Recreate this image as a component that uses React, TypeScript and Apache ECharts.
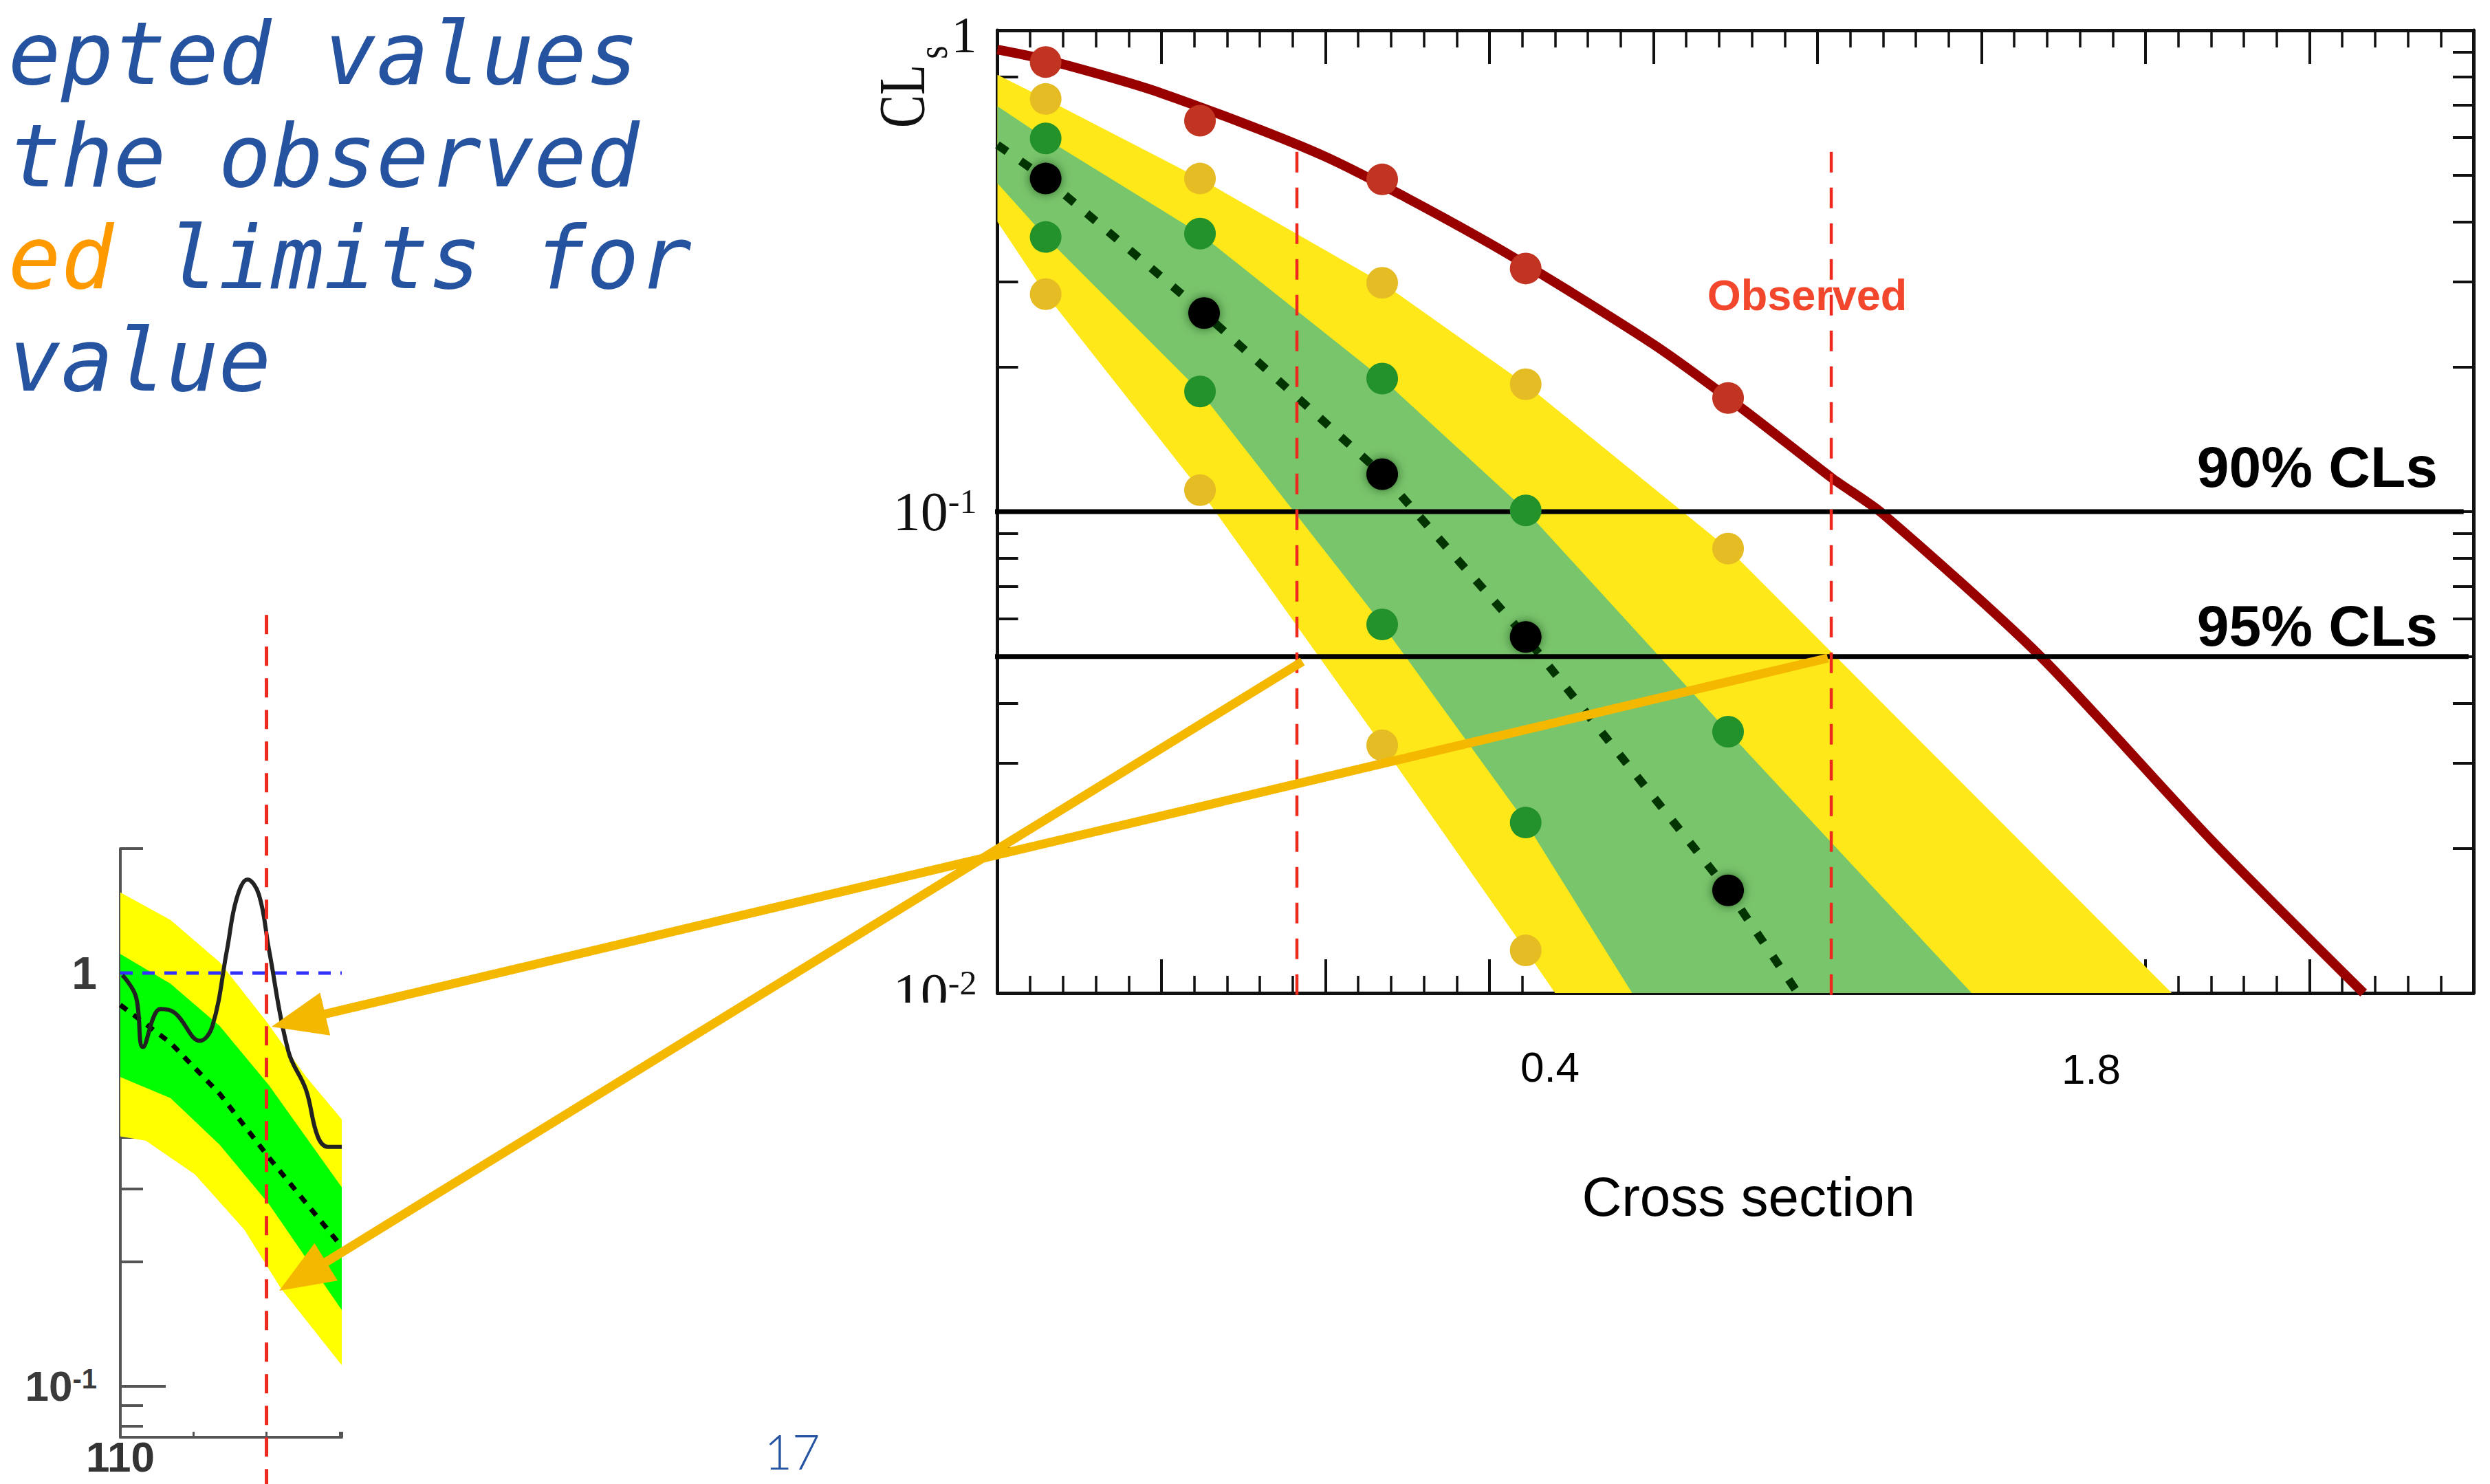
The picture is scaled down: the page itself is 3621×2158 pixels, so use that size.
import React, { useEffect, useRef } from 'react';
import * as echarts from 'echarts';

// ---------------- main chart data (x in axis units 0..9, y = CLs) ----------------
const colX = [0.294, 1.235, 2.346, 3.221, 4.455];
const medX = [0.294, 1.26, 2.346, 3.221, 4.455];
const obsDots = [0.859, 0.649, 0.49, 0.32, 0.1722];
const plus2Dots = [0.72, 0.492, 0.2988, 0.1839, 0.0838];
const plus1Dots = [0.596, 0.378, 0.189, 0.1006, 0.0349];
const medDots = [0.492, 0.2585, 0.1196, 0.0549, 0.01634];
const minus1Dots = [0.372, 0.1777, 0.0583, 0.0226];
const minus2Dots = [0.283, 0.1108, 0.0327, 0.01226];

const obsCurve = [
  [0, 0.912], [0.294, 0.869], [1, 0.74], [2, 0.546], [3, 0.361], [4, 0.2226],
  [4.55, 0.1628], [5.09, 0.1173], [5.39, 0.0995], [6.35, 0.0504], [7.4, 0.0208], [8.33, 0.01],
];
const medCurve = [
  [0, 0.578], [0.294, 0.492], [1.26, 0.2585], [2.346, 0.1196], [3.221, 0.0549], [4.455, 0.01634], [4.88, 0.01],
];
const yellowUpper = [[0, 0.808], [0.294, 0.72], [1.235, 0.492], [2.346, 0.2988], [3.221, 0.1839], [4.455, 0.0838], [7.16, 0.01]];
const yellowLower = [[0, 0.4], [0.294, 0.283], [1.235, 0.1108], [2.346, 0.0327], [3.221, 0.01226], [3.4, 0.01]];
const greenUpper = [[0, 0.695], [0.294, 0.596], [1.235, 0.378], [2.346, 0.189], [3.221, 0.1006], [4.455, 0.0349], [5.94, 0.01]];
const greenLower = [[0, 0.481], [0.294, 0.372], [1.235, 0.1777], [2.346, 0.0583], [3.221, 0.0226], [3.87, 0.01]];

const cl90 = 0.1;
const cl95 = 0.05;
const limitX = [1.826, 5.084];
const limitTop = 0.559;
const limitBottom = 0.0093;

const yMajor = [0.01, 0.1, 1];
const yMinor = [0.02, 0.03, 0.04, 0.05, 0.06, 0.07, 0.08, 0.09, 0.2, 0.3, 0.4, 0.5, 0.6, 0.7, 0.8, 0.9];

const xLabelTexts = ['0.4', '1.8'];

// ---------------- inset (cropped) chart data ----------------
const miniYellowUpper = [[110, 1.566], [113.43, 1.344], [116.8, 1.062], [120, 0.763], [122.7, 0.5615], [125.15, 0.4426]];
const miniYellowLower = [[110, 0.4026], [111.74, 0.393], [115.1, 0.3257], [118.48, 0.2395], [121, 0.1722], [125.15, 0.1125]];
const miniGreenUpper = [[110, 1.112], [113.43, 0.9425], [116.8, 0.744], [120.17, 0.535], [125.15, 0.303]];
const miniGreenLower = [[110, 0.5603], [113.43, 0.4984], [116.8, 0.384], [120.17, 0.276], [125.15, 0.1529]];
const miniMedian = [[110, 0.837], [113.43, 0.678], [116.8, 0.51], [120.17, 0.3575], [125.15, 0.2177]];
const miniObserved = [
  [110.14, 0.988], [111.06, 0.878], [111.55, 0.662], [112.75, 0.818], [113.76, 0.799], [115.45, 0.6855],
  [116.3, 0.744], [117.3, 1.139], [117.95, 1.511], [118.7, 1.683], [119.48, 1.548], [120.17, 1.139],
  [121.5, 0.646], [122.7, 0.522], [123.5, 0.4026], [124.2, 0.3797], [125.15, 0.3797],
];
const miniRef = 1;
const miniLimitX = 120;
const miniMajor = [0.1, 1];
const miniMinor = [0.08, 0.09, 0.2, 0.3, 0.4, 0.5, 0.6, 0.7, 0.8, 0.9, 2];

const noteLines = ['epted values', 'the observed', '{o|ed}{b| limits for}', 'value'];

// slide annotation arrows (pixel positions)
const arrows = [
  { from: [2658, 957], to: [395, 1493] },
  { from: [1894, 962], to: [406, 1877] },
];

const AX = '#111';
const ORANGE = '#F5B800';

function band(name: string, upper: number[][], lower: number[][], color: string, xi: number, yi: number, z: number) {
  const poly = upper.concat(lower.slice().reverse());
  return {
    type: 'custom',
    name,
    xAxisIndex: xi,
    yAxisIndex: yi,
    z,
    silent: true,
    clip: false,
    data: poly,
    renderItem: (params: any, api: any) => {
      if (params.dataIndex !== 0) return null;
      return {
        type: 'polygon',
        shape: { points: poly.map((p) => api.coord(p)) },
        style: { fill: color },
      };
    },
  };
}

function dots(vals: number[], xs: number[], color: string, extra: any = {}) {
  return {
    type: 'scatter',
    xAxisIndex: 0,
    yAxisIndex: 0,
    symbol: 'circle',
    symbolSize: 46,
    z: 7,
    silent: true,
    data: vals.map((v, i) => [xs[i], v]),
    itemStyle: { color, opacity: 1, ...extra },
  };
}

function isPow10(v: number) {
  const e = Math.round(Math.log10(v));
  return Math.abs(Math.log10(v) - e) < 1e-6;
}

function arrowGraphics() {
  const out: any[] = [];
  arrows.forEach((a) => {
    const dx = a.to[0] - a.from[0];
    const dy = a.to[1] - a.from[1];
    const len = Math.sqrt(dx * dx + dy * dy);
    const ux = dx / len, uy = dy / len;
    const hl = 80, hw = 32;
    const bx = a.to[0] - ux * hl, by = a.to[1] - uy * hl;
    out.push({
      type: 'line', z: 100, silent: true,
      shape: { x1: a.from[0], y1: a.from[1], x2: bx + ux * 4, y2: by + uy * 4 },
      style: { stroke: ORANGE, lineWidth: 13 },
    });
    out.push({
      type: 'polygon', z: 100, silent: true,
      shape: { points: [[a.to[0], a.to[1]], [bx - uy * hw, by + ux * hw], [bx + uy * hw, by - ux * hw]] },
      style: { fill: ORANGE },
    });
  });
  return out;
}

const mainYLabelRich = {
  one: { fontFamily: 'Liberation Serif', fontSize: 74, lineHeight: 56, padding: [14, 0, 0, 0], color: '#111' },
  b: { fontFamily: 'Liberation Serif', fontSize: 80, color: '#111' },
  s: { fontFamily: 'Liberation Serif', fontSize: 50, color: '#111', verticalAlign: 'top' },
};
const miniYLabelRich = {
  one: { fontFamily: 'Liberation Sans', fontWeight: 'bold', fontSize: 66, color: '#3a3a3a' },
  b: { fontFamily: 'Liberation Sans', fontWeight: 'bold', fontSize: 62, color: '#3a3a3a' },
  s: { fontFamily: 'Liberation Sans', fontWeight: 'bold', fontSize: 40, color: '#3a3a3a', verticalAlign: 'top' },
};

function yLabelFormatter(v: number) {
  if (!isPow10(v)) return '';
  const e = Math.round(Math.log10(v));
  return e === 0 ? '{one|1}' : `{b|10}{s|${e}}`;
}

function logAxis(grid: number, pos: string, min: number, max: number, opts: any) {
  return {
    gridIndex: grid,
    type: 'log',
    logBase: 10,
    min,
    max,
    position: pos,
    splitLine: { show: false },
    axisLabel: { show: false },
    ...opts,
  };
}

const option: any = {
  animation: false,
  backgroundColor: '#ffffff',
  grid: [
    { left: 1450.5, top: 38, width: 2146.5, height: 1406 },
    { left: 175, top: 1234, width: 322, height: 856 },
  ],
  xAxis: [
    {
      gridIndex: 0, type: 'value', position: 'bottom', min: 0, max: 9, interval: 1,
      axisLine: { show: true, onZero: false, lineStyle: { color: AX, width: 5 } },
      axisTick: { show: true, inside: true, length: 49, lineStyle: { color: AX, width: 4 } },
      minorTick: { show: true, splitNumber: 5, length: 25, lineStyle: { color: AX, width: 3.5 } },
      axisLabel: { show: false }, splitLine: { show: false }, minorSplitLine: { show: false },
      name: 'Cross section', nameLocation: 'middle', nameGap: 256,
      nameTextStyle: { fontFamily: 'Liberation Sans', fontSize: 80, color: '#000', padding: [0, 0, 0, 38] },
    },
    {
      gridIndex: 0, type: 'value', position: 'top', min: 0, max: 9, interval: 1,
      axisLine: { show: true, onZero: false, lineStyle: { color: AX, width: 5 } },
      axisTick: { show: true, inside: true, length: 49, lineStyle: { color: AX, width: 4 } },
      minorTick: { show: true, splitNumber: 5, length: 25, lineStyle: { color: AX, width: 3.5 } },
      axisLabel: { show: false }, splitLine: { show: false }, minorSplitLine: { show: false },
    },
    {
      gridIndex: 1, type: 'value', position: 'bottom', min: 110, max: 125.15, interval: 5,
      axisLine: { show: true, onZero: false, lineStyle: { color: '#555', width: 4 } },
      axisTick: { show: true, inside: true, length: 8, lineStyle: { color: '#555', width: 3 } },
      axisLabel: {
        show: true, margin: 6, fontFamily: 'Liberation Sans', fontWeight: 'bold', fontSize: 62, lineHeight: 44, color: '#333',
        formatter: (v: number) => (v === 110 ? '110' : ''),
      },
      splitLine: { show: false },
    },
  ],
  yAxis: [
    logAxis(0, 'left', 0.01, 1, {
      axisLine: { show: true, onZero: false, lineStyle: { color: AX, width: 5 } },
      axisTick: { show: true, inside: true, length: 50, customValues: yMajor, lineStyle: { color: AX, width: 4 } },
      axisLabel: { show: true, margin: 30, formatter: yLabelFormatter, rich: mainYLabelRich },
    }),
    logAxis(0, 'left', 0.01, 1, {
      axisLine: { show: false, onZero: false },
      axisTick: { show: true, inside: true, length: 30, customValues: yMinor, lineStyle: { color: AX, width: 4 } },
    }),
    logAxis(0, 'right', 0.01, 1, {
      axisLine: { show: true, onZero: false, lineStyle: { color: AX, width: 5 } },
      axisTick: { show: true, inside: true, length: 50, customValues: yMajor, lineStyle: { color: AX, width: 4 } },
    }),
    logAxis(0, 'right', 0.01, 1, {
      axisLine: { show: false, onZero: false },
      axisTick: { show: true, inside: true, length: 30, customValues: yMinor, lineStyle: { color: AX, width: 4 } },
    }),
    logAxis(1, 'left', 0.0753, 2, {
      axisLine: { show: true, onZero: false, lineStyle: { color: '#555', width: 4 } },
      axisTick: { show: true, inside: true, length: 66, customValues: miniMajor, lineStyle: { color: '#555', width: 4 } },
      axisLabel: { show: true, margin: 34, customValues: miniMajor, formatter: yLabelFormatter, rich: miniYLabelRich },
    }),
    logAxis(1, 'left', 0.0753, 2, {
      axisLine: { show: false, onZero: false },
      axisTick: { show: true, inside: true, length: 33, customValues: miniMinor, lineStyle: { color: '#555', width: 4 } },
    }),
  ],
  series: [
    band('yellow band', yellowUpper, yellowLower, '#FFE81A', 0, 0, 1),
    band('green band', greenUpper, greenLower, '#79C56B', 0, 0, 2),
    {
      type: 'line', name: 'expected', xAxisIndex: 0, yAxisIndex: 0, data: medCurve, symbol: 'none', z: 3, silent: true,
      lineStyle: { color: '#023402', width: 12, type: [17, 24] },
    },
    {
      type: 'line', name: 'observed', xAxisIndex: 0, yAxisIndex: 0, data: obsCurve, symbol: 'none', smooth: 0.25, z: 4, silent: true,
      lineStyle: { color: '#990000', width: 14 },
    },
    {
      type: 'line', name: '90%', xAxisIndex: 0, yAxisIndex: 0, data: [[-0.03, cl90], [8.94, cl90]], symbol: 'none', z: 5, clip: false, silent: true,
      lineStyle: { color: '#000', width: 7 },
    },
    {
      type: 'line', name: '95%', xAxisIndex: 0, yAxisIndex: 0, data: [[-0.04, cl95], [8.97, cl95]], symbol: 'none', z: 5, clip: false, silent: true,
      lineStyle: { color: '#000', width: 7 },
    },
    ...limitX.map((x) => ({
      type: 'line', xAxisIndex: 0, yAxisIndex: 0, data: [[x, limitTop], [x, limitBottom]], symbol: 'none', z: 6, clip: false, silent: true,
      lineStyle: { color: '#EE2A1E', width: 4.5, type: [30, 22] },
    })),
    dots(obsDots, colX, '#C13421'),
    dots(plus2Dots, colX, '#E6BC24'),
    dots(minus2Dots, colX, '#E6BC24'),
    dots(plus1Dots, colX, '#24922A'),
    dots(minus1Dots, colX, '#24922A'),
    dots(medDots, medX, '#000000', { shadowBlur: 14, shadowColor: 'rgba(0,40,0,0.6)' }),
    // inset chart
    band('mini yellow', miniYellowUpper, miniYellowLower, '#FFFF00', 2, 4, 1),
    band('mini green', miniGreenUpper, miniGreenLower, '#00FF00', 2, 4, 2),
    {
      type: 'line', xAxisIndex: 2, yAxisIndex: 4, data: miniMedian, symbol: 'none', z: 3, silent: true,
      lineStyle: { color: '#000', width: 7, type: [12, 12] },
    },
    {
      type: 'line', xAxisIndex: 2, yAxisIndex: 4, data: [[110, miniRef], [125.15, miniRef]], symbol: 'none', z: 4, silent: true,
      lineStyle: { color: '#3030FF', width: 5, type: [18, 14] },
    },
    {
      type: 'line', xAxisIndex: 2, yAxisIndex: 4, data: miniObserved, symbol: 'none', smooth: 0.4, z: 5, silent: true,
      lineStyle: { color: '#222', width: 6 },
    },
    {
      type: 'line', xAxisIndex: 2, yAxisIndex: 4, data: [[miniLimitX, 7.35], [miniLimitX, 0.0578]], symbol: 'none', z: 6, clip: false, silent: true,
      lineStyle: { color: '#EE2A1E', width: 5, type: [28, 18] },
    },
  ],
  graphic: [
    ...noteLines.map((t, i) => ({
      type: 'text', x: 12, y: 78 + i * 148.5, z: 100, silent: true,
      style: {
        text: t, fontFamily: 'DejaVu Sans Mono', fontStyle: 'italic', fontSize: 127, fill: '#2553A0',
        align: 'left', verticalAlign: 'middle',
        rich: {
          o: { fontFamily: 'DejaVu Sans Mono', fontStyle: 'italic', fontSize: 127, fill: '#FF9900', color: '#FF9900' },
          b: { fontFamily: 'DejaVu Sans Mono', fontStyle: 'italic', fontSize: 127, fill: '#2553A0', color: '#2553A0' },
        },
      },
    })),
    {
      type: 'text', x: 1152, y: 2110, z: 100, silent: true,
      style: { text: '17', fontFamily: 'Lato', fontWeight: 300, fontSize: 70, fill: '#2453A2', align: 'center', verticalAlign: 'middle' },
    },
    {
      type: 'text', x: 1311, y: 140, rotation: Math.PI / 2, scaleX: 0.75, z: 100, silent: true,
      style: { text: 'CL', fontFamily: 'Liberation Serif', fontSize: 96, fill: '#111', align: 'center', verticalAlign: 'middle' },
    },
    {
      type: 'text', x: 1356, y: 76, rotation: Math.PI / 2, scaleX: 0.8, z: 100, silent: true,
      style: { text: 's', fontFamily: 'Liberation Serif', fontSize: 62, fill: '#111', align: 'center', verticalAlign: 'middle' },
    },
    {
      type: 'text', x: 3545, y: 679, z: 100, silent: true,
      style: { text: '90% CLs', fontFamily: 'Liberation Sans', fontWeight: 'bold', fontSize: 84, fill: '#000', align: 'right', verticalAlign: 'middle' },
    },
    {
      type: 'text', x: 3545, y: 910, z: 100, silent: true,
      style: { text: '95% CLs', fontFamily: 'Liberation Sans', fontWeight: 'bold', fontSize: 84, fill: '#000', align: 'right', verticalAlign: 'middle' },
    },
    {
      type: 'text', x: 2628, y: 429, z: 100, silent: true,
      style: { text: 'Observed', fontFamily: 'Liberation Sans', fontWeight: 'bold', fontSize: 63, fill: '#F2472D', align: 'center', verticalAlign: 'middle' },
    },
    {
      type: 'text', x: 2254, y: 1551, z: 100, silent: true,
      style: { text: xLabelTexts[0], fontFamily: 'Liberation Sans', fontSize: 62, fill: '#000', align: 'center', verticalAlign: 'middle' },
    },
    {
      type: 'text', x: 3041, y: 1554, z: 100, silent: true,
      style: { text: xLabelTexts[1], fontFamily: 'Liberation Sans', fontSize: 62, fill: '#000', align: 'center', verticalAlign: 'middle' },
    },
    {
      type: 'rect', z: 99, silent: true,
      shape: { x: 1280, y: 1458, width: 160, height: 80 },
      style: { fill: '#ffffff' },
    },
    ...arrowGraphics(),
  ],
};

export default function App() {
  const ref = useRef<HTMLDivElement>(null);
  useEffect(() => {
    const chart = echarts.init(ref.current as HTMLDivElement, undefined, { renderer: 'svg' });
    chart.setOption(option);
    return () => chart.dispose();
  }, []);
  return (
    <div
      ref={ref}
      style={{ position: 'absolute', left: 0, top: 0, width: 3621, height: 2158, background: '#ffffff' }}
    />
  );
}
